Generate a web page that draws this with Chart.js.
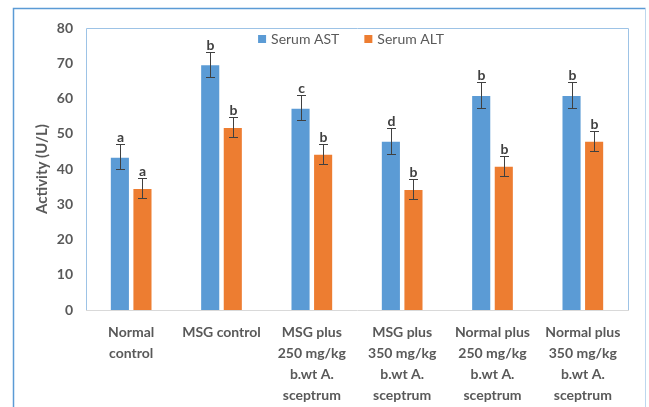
<!DOCTYPE html>
<html>
<head>
<meta charset="utf-8">
<script src="https://cdn.jsdelivr.net/npm/chart.js@4.4.0/dist/chart.umd.min.js"></script>
<style>
  html, body { margin: 0; padding: 0; background: #fff; }
  canvas { display: block; }
</style>
</head>
<body>
<canvas id="liverChart" width="649" height="407"></canvas>
<script>
// data
const groups = [
  ['Normal', 'control'],
  ['MSG control'],
  ['MSG plus', '250 mg/kg', 'b.wt A.', 'sceptrum'],
  ['MSG plus', '350 mg/kg', 'b.wt A.', 'sceptrum'],
  ['Normal plus', '250 mg/kg', 'b.wt A.', 'sceptrum'],
  ['Normal plus', '350 mg/kg', 'b.wt A.', 'sceptrum']
];
const astValues = [43.5, 69.7, 57.4, 48.0, 61.0, 61.0];
const astErrors = [3.6, 3.6, 3.6, 3.7, 3.7, 3.7];
const astLetters = ['a', 'b', 'c', 'd', 'b', 'b'];
const altValues = [34.6, 51.9, 44.3, 34.3, 40.9, 48.0];
const altErrors = [2.8, 2.9, 2.9, 2.9, 2.9, 2.9];
const altLetters = ['a', 'b', 'b', 'b', 'b', 'b'];
const yTicks = [0, 10, 20, 30, 40, 50, 60, 70, 80];

const FONT = 'Lato, "Open Sans", sans-serif';
const GREY = '#595959';

// boxes round the plot area and the whole chart
const framePlugin = {
  id: 'frame',
  beforeDatasetsDraw(chart) {
    const { ctx, chartArea: a } = chart;
    ctx.save();
    ctx.strokeStyle = '#9dc3e6';
    ctx.lineWidth = 1;
    ctx.beginPath();
    ctx.moveTo(a.left + 0.5, a.bottom);
    ctx.lineTo(a.left + 0.5, a.top + 0.5);
    ctx.lineTo(a.right + 0.5, a.top + 0.5);
    ctx.lineTo(a.right + 0.5, a.bottom);
    ctx.stroke();
    // outer border
    ctx.strokeStyle = '#5b9bd5';
    ctx.lineWidth = 1.5;
    ctx.beginPath();
    ctx.moveTo(13.5, 410);
    ctx.lineTo(13.5, 8.5);
    ctx.lineTo(645.5, 8.5);
    ctx.stroke();
    ctx.strokeStyle = '#bdd7ee';
    ctx.lineWidth = 1;
    ctx.beginPath();
    ctx.moveTo(645.5, 8.5);
    ctx.lineTo(645.5, 410);
    ctx.stroke();
    ctx.restore();
  }
};

// error bars + significance letters
const errorPlugin = {
  id: 'errors',
  afterDatasetsDraw(chart) {
    const { ctx } = chart;
    const y = chart.scales.y;
    ctx.save();
    chart.data.datasets.forEach((ds, i) => {
      const meta = chart.getDatasetMeta(i);
      meta.data.forEach((bar, j) => {
        const v = ds.data[j];
        const e = ds.errors[j];
        const top = Math.round(y.getPixelForValue(v + e)) + 0.5;
        const bot = Math.round(y.getPixelForValue(v - e)) + 0.5;
        const x = Math.round(bar.x) + 0.5;
        ctx.strokeStyle = '#404040';
        ctx.lineWidth = 1;
        ctx.beginPath();
        ctx.moveTo(x, top); ctx.lineTo(x, bot);
        ctx.moveTo(x - 4.5, top); ctx.lineTo(x + 4.5, top);
        ctx.moveTo(x - 4.5, bot); ctx.lineTo(x + 4.5, bot);
        ctx.stroke();
        ctx.fillStyle = '#404040';
        ctx.font = 'bold 14px ' + FONT;
        ctx.textAlign = 'center';
        ctx.textBaseline = 'alphabetic';
        ctx.fillText(ds.letters[j], x, top - 3);
      });
    });
    ctx.restore();
  }
};

// legend sits inside the plot area like the original
const legendPlugin = {
  id: 'innerLegend',
  afterDraw(chart) {
    const { ctx } = chart;
    ctx.save();
    ctx.font = '14px ' + FONT;
    ctx.textBaseline = 'middle';
    const items = chart.data.datasets.map(ds => ({ label: ds.label, color: ds.backgroundColor }));
    const widths = items.map(it => 8 + 5 + ctx.measureText(it.label).width);
    const total = widths.reduce((s, w) => s + w, 0) + 25 * (items.length - 1);
    let x = 351 - total / 2;
    const yc = 39;
    items.forEach((it, k) => {
      ctx.fillStyle = it.color;
      ctx.fillRect(x, yc - 4, 8, 8);
      ctx.fillStyle = GREY;
      ctx.textAlign = 'left';
      ctx.fillText(it.label, x + 13, yc);
      x += widths[k] + 25;
    });
    ctx.restore();
  }
};

const ctx = document.getElementById('liverChart').getContext('2d');
new Chart(ctx, {
  type: 'bar',
  data: {
    labels: groups,
    datasets: [
      {
        label: 'Serum AST',
        data: astValues,
        errors: astErrors,
        letters: astLetters,
        backgroundColor: '#5b9bd5',
        borderColor: 'rgba(255,255,255,0.45)',
        borderWidth: 1,
        categoryPercentage: 0.5,
        barPercentage: 0.89
      },
      {
        label: 'Serum ALT',
        data: altValues,
        errors: altErrors,
        letters: altLetters,
        backgroundColor: '#ed7d31',
        borderColor: 'rgba(255,255,255,0.45)',
        borderWidth: 1,
        categoryPercentage: 0.5,
        barPercentage: 0.89
      }
    ]
  },
  options: {
    responsive: false,
    devicePixelRatio: 1,
    animation: false,
    layout: { padding: { left: 0, right: 21, top: 28, bottom: 0 } },
    plugins: {
      legend: { display: false },
      tooltip: { enabled: false }
    },
    scales: {
      x: {
        grid: { display: false, drawTicks: false },
        border: { display: true, color: '#d9d9d9', width: 1 },
        ticks: {
          color: GREY,
          font: { family: FONT, size: 14, weight: 'bold', lineHeight: 1.5 },
          padding: 12,
          maxRotation: 0,
          autoSkip: false
        },
        afterFit(scale) { scale.height = 97; }
      },
      y: {
        min: 0,
        max: 80,
        afterBuildTicks(scale) { scale.ticks = yTicks.map(v => ({ value: v })); },
        grid: { display: false, drawTicks: false },
        border: { display: false },
        ticks: {
          color: GREY,
          font: { family: FONT, size: 14, weight: 'bold' },
          padding: 13
        },
        title: {
          display: true,
          text: 'Activity (U/L)',
          color: GREY,
          font: { family: FONT, size: 15, weight: 'bold' },
          padding: { top: 33, bottom: 0 }
        },
        afterFit(scale) { scale.width = 86; }
      }
    }
  },
  plugins: [framePlugin, errorPlugin, legendPlugin]
});
</script>
</body>
</html>
